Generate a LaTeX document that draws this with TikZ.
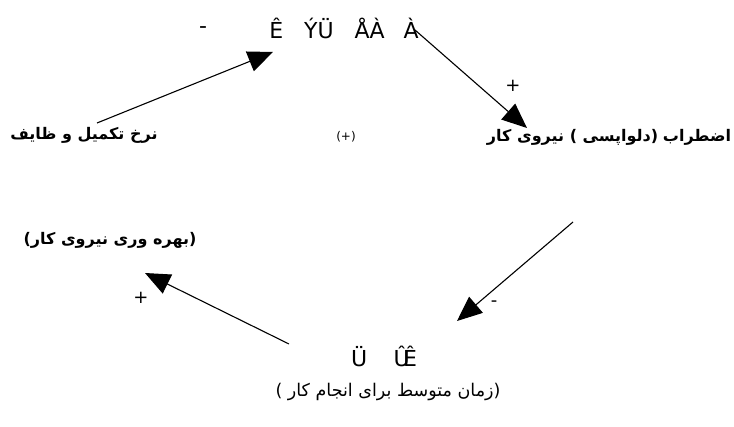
\documentclass[tikz,border=0pt]{standalone}
\usepackage{fontspec}
\setmainfont{DejaVu Sans}
\newfontfamily\arabicfont[Script=Arabic]{DejaVu Sans}
\TeXXeTstate=1
\usetikzlibrary{arrows.meta}
\begin{document}
\begin{tikzpicture}[x=1pt,y=-1pt,
  lbl/.style={inner sep=0pt, font=\arabicfont\bfseries\fontsize{16}{19}\selectfont},
  lblthin/.style={inner sep=0pt, font=\arabicfont\fontsize{17.5}{20}\selectfont},
  latin/.style={inner sep=0pt, font=\fontsize{22}{25}\selectfont},
  sign/.style={inner sep=0pt, font=\fontsize{18}{20}\selectfont},
  arr/.style={line width=1.1pt, -{Triangle[length=25pt,width=21pt]}}]
\useasboundingbox (0,0) rectangle (734,427);
% texts
\node[latin] (dashtop) at (203,30) {-};
\node[latin] (top) at (344,28) {Ê\hspace{0.95em}ÝÜ\hspace{0.95em}ÅÀ\hspace{0.85em}À};
\node[lbl] (left) at (84,135) {\beginR نرخ تکمیل و ظایف\endR};
\node[inner sep=0pt, font=\fontsize{12}{14}\selectfont] (center) at (346,137) {(+)};
\node[lbl] (right) at (609,137) {\beginR اضطراب\hspace{0.3em}(دلواپسی ) نیروی کار\endR};
\node[lbl] (prod) at (110,240) {\beginR(بهره وری نیروی کار)\endR};
\node[latin] (bottom) at (384,356) {Ü\hspace{1.2em}Û\kern-0.3emÊ};
\node[lblthin] (time) at (388,392) {\beginR(زمان متوسط برای انجام کار )\endR};
\node[sign] (plusA) at (513,86) {+};
\node[sign] (minusB) at (494,304) {-};
\node[sign] (plusC) at (141,298) {+};
% arrow end points
\coordinate (a1s) at (97,123);  \coordinate (a1e) at (273,52);
\coordinate (a2s) at (415,30);  \coordinate (a2e) at (527,128);
\coordinate (a3s) at (573,222); \coordinate (a3e) at (457,321);
\coordinate (a4s) at (289,344); \coordinate (a4e) at (145,273);
\draw[arr] (a1s) -- (a1e);
\draw[arr] (a2s) -- (a2e);
\draw[arr] (a3s) -- (a3e);
\draw[arr] (a4s) -- (a4e);
\end{tikzpicture}
\end{document}
